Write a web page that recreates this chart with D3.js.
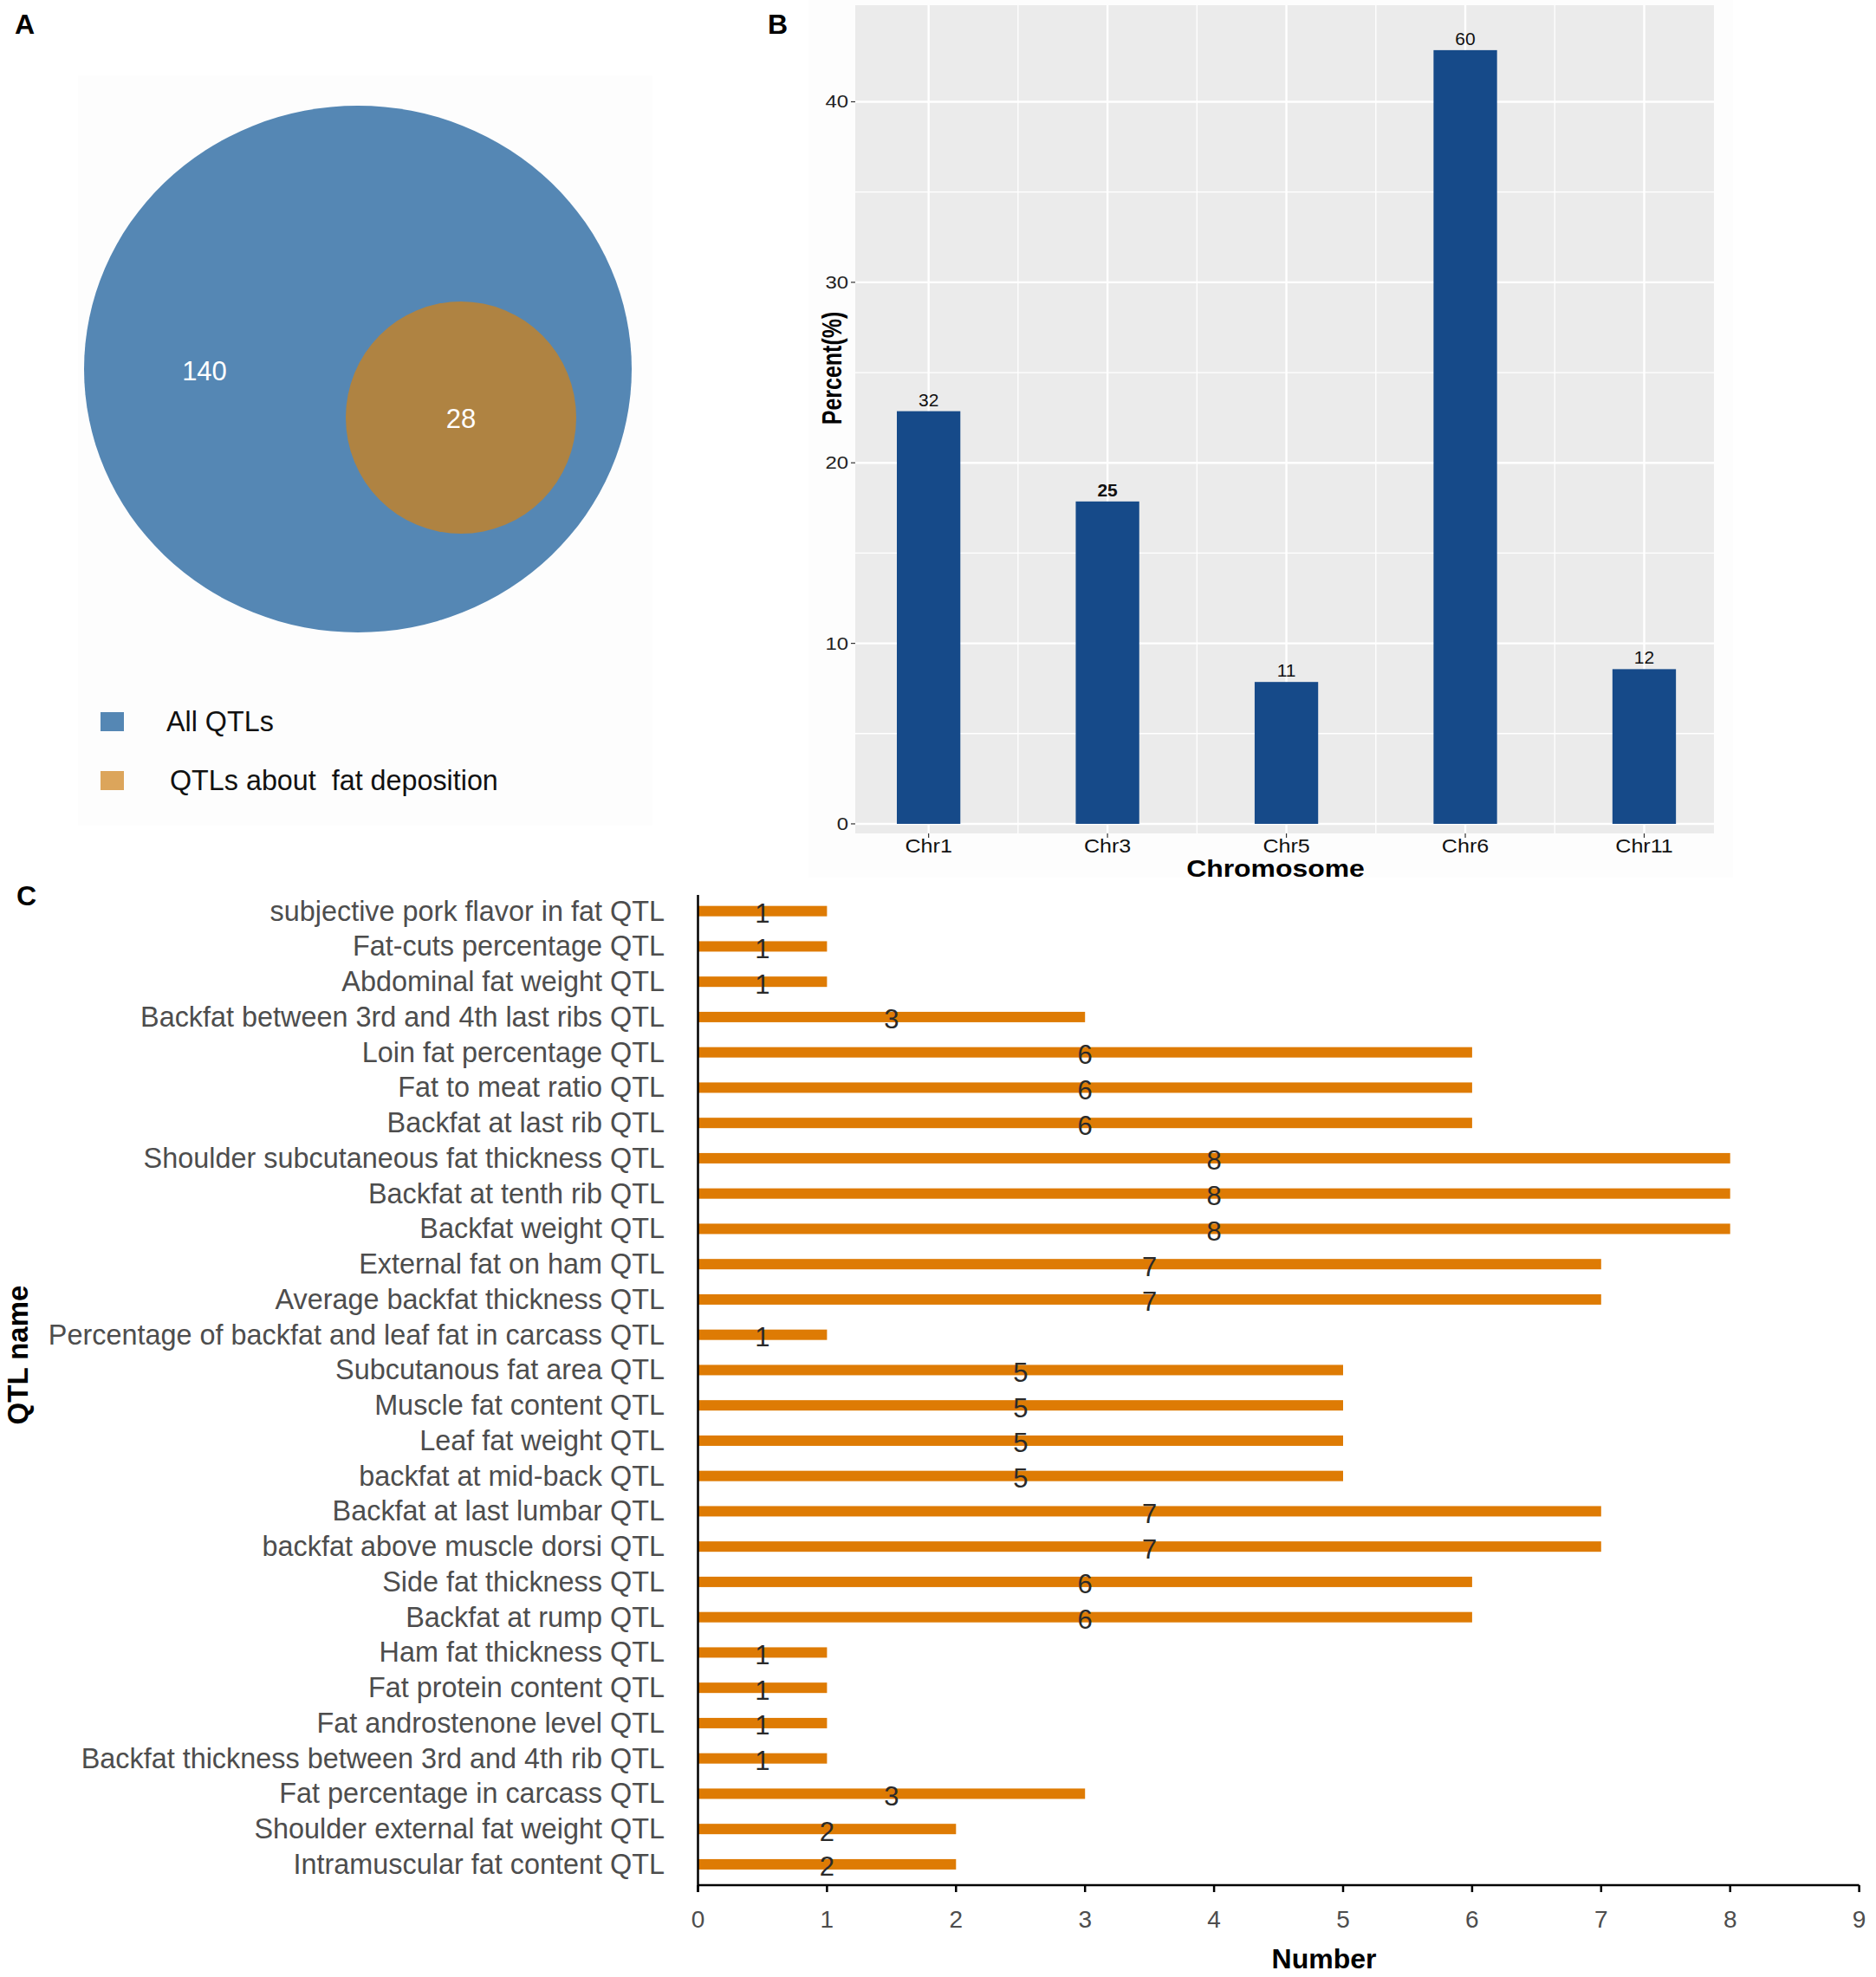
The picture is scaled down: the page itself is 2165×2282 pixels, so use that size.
<!DOCTYPE html>
<html>
<head>
<meta charset="utf-8">
<script src="https://cdn.jsdelivr.net/npm/d3@7"></script>
<style>
  body { margin: 0; background: #fff; }
  text { font-family: "Liberation Sans", Arial, sans-serif; }
</style>
</head>
<body>
<div id="chart"></div>
<script>
// ---- data ----
const vennLabels = ["All QTLs", "QTLs about  fat deposition"];
const vennCounts = [140, 28];

const chromosomes = ["Chr1", "Chr3", "Chr5", "Chr6", "Chr11"];
const chrCounts = [32, 25, 11, 60, 12];
const chrPercent = [22.86, 17.86, 7.86, 42.86, 8.57];
const percentTicks = [0, 10, 20, 30, 40];

const qtlNames = [
  "subjective pork flavor in fat QTL",
  "Fat-cuts percentage QTL",
  "Abdominal fat weight QTL",
  "Backfat between 3rd and 4th last ribs QTL",
  "Loin fat percentage QTL",
  "Fat to meat ratio QTL",
  "Backfat at last rib QTL",
  "Shoulder subcutaneous fat thickness QTL",
  "Backfat at tenth rib QTL",
  "Backfat weight QTL",
  "External fat on ham QTL",
  "Average backfat thickness QTL",
  "Percentage of backfat and leaf fat in carcass QTL",
  "Subcutanous fat area QTL",
  "Muscle fat content QTL",
  "Leaf fat weight QTL",
  "backfat at mid-back QTL",
  "Backfat at last lumbar QTL",
  "backfat above muscle dorsi QTL",
  "Side fat thickness QTL",
  "Backfat at rump QTL",
  "Ham fat thickness QTL",
  "Fat protein content QTL",
  "Fat androstenone level QTL",
  "Backfat thickness between 3rd and 4th rib QTL",
  "Fat percentage in carcass QTL",
  "Shoulder external fat weight QTL",
  "Intramuscular fat content QTL"
];
const qtlCounts = [1, 1, 1, 3, 6, 6, 6, 8, 8, 8, 7, 7, 1, 5, 5, 5, 5, 7, 7, 6, 6, 1, 1, 1, 1, 3, 2, 2];
const numberTicks = [0, 1, 2, 3, 4, 5, 6, 7, 8, 9];

// ---- svg ----
const W = 2165, H = 2282;
const svg = d3.select("#chart").append("svg")
  .attr("width", W)
  .attr("height", H);

// panel letters
const letters = [["A", 17, 39], ["B", 886, 39], ["C", 19, 1045]];
svg.selectAll(".panel-letter")
  .data(letters)
  .enter().append("text")
  .attr("class", "panel-letter")
  .attr("x", d => d[1])
  .attr("y", d => d[2])
  .attr("font-size", 32)
  .attr("font-weight", "bold")
  .text(d => d[0]);

// ===== Panel A: Venn =====
const gA = svg.append("g");
gA.append("rect")
  .attr("x", 90).attr("y", 87).attr("width", 663).attr("height", 866)
  .attr("fill", "#fdfdfd");

const vennColors = ["#5587b4", "#af8342"];
const legendColors = ["#5587b4", "#dca55b"];
const vennShapes = [
  { cx: 413, cy: 426, rx: 316, ry: 304, lx: 236, ly: 428 },
  { cx: 532, cy: 482, rx: 133, ry: 134, lx: 532, ly: 483 }
];

gA.selectAll(".venn")
  .data(vennCounts)
  .enter().append("ellipse")
  .attr("class", "venn")
  .attr("cx", (d, i) => vennShapes[i].cx)
  .attr("cy", (d, i) => vennShapes[i].cy)
  .attr("rx", (d, i) => vennShapes[i].rx)
  .attr("ry", (d, i) => vennShapes[i].ry)
  .attr("fill", (d, i) => vennColors[i]);

gA.selectAll(".venn-label")
  .data(vennCounts)
  .enter().append("text")
  .attr("x", (d, i) => vennShapes[i].lx)
  .attr("y", (d, i) => vennShapes[i].ly)
  .attr("text-anchor", "middle")
  .attr("dominant-baseline", "central")
  .attr("font-size", 31)
  .attr("fill", "#fff")
  .text(d => d);

const legY = [833, 901];
gA.selectAll(".leg-box")
  .data(vennLabels)
  .enter().append("rect")
  .attr("x", 116)
  .attr("y", (d, i) => legY[i] - 11)
  .attr("width", 27)
  .attr("height", 22)
  .attr("fill", (d, i) => legendColors[i]);

gA.selectAll(".leg-text")
  .data(vennLabels)
  .enter().append("text")
  .attr("x", (d, i) => i === 0 ? 192 : 196)
  .attr("y", (d, i) => legY[i] + 11)
  .attr("font-size", 32.3)
  .attr("fill", "#111")
  .style("white-space", "pre")
  .text(d => d);

// ===== Panel B: bar chart =====
const gB = svg.append("g");
gB.append("rect")
  .attr("x", 933).attr("y", 0).attr("width", 1067).attr("height", 1013)
  .attr("fill", "#fdfdfd");

const bLeft = 987, bRight = 1978, bTop = 6, bBottom = 962;
const xB = d3.scaleLinear().domain([0.59, 5.39]).range([bLeft, bRight]);
const yB = d3.scaleLinear().domain([-0.53, 45.35]).range([bBottom, bTop]);
const stretch = 1.14;

gB.append("rect")
  .attr("x", bLeft).attr("y", bTop)
  .attr("width", bRight - bLeft).attr("height", bBottom - bTop)
  .attr("fill", "#ebebeb");

// grid lines
const minorY = [5, 15, 25, 35];
gB.selectAll(".gy-minor")
  .data(minorY)
  .enter().append("line")
  .attr("x1", bLeft).attr("x2", bRight)
  .attr("y1", d => yB(d)).attr("y2", d => yB(d))
  .attr("stroke", "#fff").attr("stroke-width", 1.3);
gB.selectAll(".gy-major")
  .data(percentTicks)
  .enter().append("line")
  .attr("x1", bLeft).attr("x2", bRight)
  .attr("y1", d => yB(d)).attr("y2", d => yB(d))
  .attr("stroke", "#fff").attr("stroke-width", 2.4);
const midX = d3.range(1.5, 5, 1);
gB.selectAll(".gx-minor")
  .data(midX)
  .enter().append("line")
  .attr("y1", bTop).attr("y2", bBottom)
  .attr("x1", d => xB(d)).attr("x2", d => xB(d))
  .attr("stroke", "#fff").attr("stroke-width", 1.3);
gB.selectAll(".gx-major")
  .data(chromosomes)
  .enter().append("line")
  .attr("y1", bTop).attr("y2", bBottom)
  .attr("x1", (d, i) => xB(i + 1)).attr("x2", (d, i) => xB(i + 1))
  .attr("stroke", "#fff").attr("stroke-width", 2.4);

// bars
const barW = xB(1.355) - xB(1);
gB.selectAll(".bar")
  .data(chrPercent)
  .enter().append("rect")
  .attr("class", "bar")
  .attr("x", (d, i) => xB(i + 1) - barW / 2)
  .attr("y", d => yB(d))
  .attr("width", barW)
  .attr("height", d => yB(0) - yB(d))
  .attr("fill", "#164a89");

gB.selectAll(".bar-label")
  .data(chrCounts)
  .enter().append("text")
  .attr("x", (d, i) => xB(i + 1))
  .attr("y", (d, i) => yB(chrPercent[i]) - 6)
  .attr("text-anchor", "middle")
  .attr("font-size", 21)
  .attr("font-weight", (d, i) => chromosomes[i] === "Chr3" ? "bold" : "normal")
  .attr("fill", "#111")
  .text(d => d);

// y axis ticks
gB.selectAll(".ytick")
  .data(percentTicks)
  .enter().append("line")
  .attr("x1", bLeft - 5).attr("x2", bLeft)
  .attr("y1", d => yB(d)).attr("y2", d => yB(d))
  .attr("stroke", "#333").attr("stroke-width", 1.2);
gB.selectAll(".ylab")
  .data(percentTicks)
  .enter().append("text")
  .attr("transform", d => `translate(${bLeft - 8},${yB(d)}) scale(${stretch},1)`)
  .attr("text-anchor", "end")
  .attr("dominant-baseline", "central")
  .attr("font-size", 21)
  .attr("fill", "#222")
  .text(d => d);

// x axis ticks
gB.selectAll(".xtick")
  .data(chromosomes)
  .enter().append("line")
  .attr("x1", (d, i) => xB(i + 1)).attr("x2", (d, i) => xB(i + 1))
  .attr("y1", bBottom).attr("y2", bBottom + 5)
  .attr("stroke", "#333").attr("stroke-width", 1.2);
gB.selectAll(".xlab")
  .data(chromosomes)
  .enter().append("text")
  .attr("transform", (d, i) => `translate(${xB(i + 1)},${984}) scale(${stretch},1)`)
  .attr("text-anchor", "middle")
  .attr("font-size", 22)
  .attr("fill", "#111")
  .text(d => d);

gB.append("text")
  .attr("transform", `translate(1472,1012) scale(${stretch},1)`)
  .attr("text-anchor", "middle")
  .attr("font-size", 28)
  .attr("font-weight", "bold")
  .text("Chromosome");

gB.append("text")
  .attr("transform", `translate(960,425) scale(1.25,1) rotate(-90)`)
  .attr("text-anchor", "middle")
  .attr("dominant-baseline", "central")
  .attr("font-size", 25)
  .attr("font-weight", "bold")
  .text("Percent(%)");

// ===== Panel C: horizontal bars =====
const gC = svg.append("g");
const cLeft = 805.5, cTop = 1031.3, cBottom = 2172.3, axisY = 2176;
const xC = d3.scaleLinear().domain([0, 9]).range([cLeft, cLeft + 9 * 148.9]);
const yC = d3.scaleBand().domain(qtlNames).range([cTop, cBottom]).padding(0);
const barH = 12;

gC.selectAll(".hbar")
  .data(qtlCounts)
  .enter().append("rect")
  .attr("class", "hbar")
  .attr("x", xC(0))
  .attr("y", (d, i) => yC(qtlNames[i]) + yC.bandwidth() / 2 - barH / 2)
  .attr("width", d => xC(d) - xC(0))
  .attr("height", barH)
  .attr("fill", "#de7b04");

gC.selectAll(".hbar-label")
  .data(qtlCounts)
  .enter().append("text")
  .attr("x", d => xC(d / 2))
  .attr("y", (d, i) => yC(qtlNames[i]) + yC.bandwidth() / 2 + 3)
  .attr("text-anchor", "middle")
  .attr("dominant-baseline", "central")
  .attr("font-size", 31)
  .attr("fill", "#2a2a2a")
  .text(d => d);

// category labels
gC.selectAll(".cat")
  .data(qtlNames)
  .enter().append("text")
  .attr("x", 767)
  .attr("y", d => yC(d) + yC.bandwidth() / 2)
  .attr("text-anchor", "end")
  .attr("dominant-baseline", "central")
  .attr("font-size", 32.4)
  .attr("fill", "#4d4d4d")
  .text(d => d);

// axes
gC.append("line")
  .attr("x1", cLeft).attr("x2", cLeft)
  .attr("y1", 1033).attr("y2", axisY + 8)
  .attr("stroke", "#000").attr("stroke-width", 2.5);
gC.append("line")
  .attr("x1", cLeft).attr("x2", xC(9))
  .attr("y1", axisY).attr("y2", axisY)
  .attr("stroke", "#000").attr("stroke-width", 2.5);
gC.selectAll(".ctick")
  .data(numberTicks)
  .enter().append("line")
  .attr("x1", d => xC(d)).attr("x2", d => xC(d))
  .attr("y1", axisY).attr("y2", axisY + 8)
  .attr("stroke", "#000").attr("stroke-width", 2.5);
gC.selectAll(".clab")
  .data(numberTicks)
  .enter().append("text")
  .attr("x", d => xC(d))
  .attr("y", 2225)
  .attr("text-anchor", "middle")
  .attr("font-size", 28)
  .attr("fill", "#4d4d4d")
  .text(d => d);

gC.append("text")
  .attr("x", 1528).attr("y", 2272)
  .attr("text-anchor", "middle")
  .attr("font-size", 32)
  .attr("font-weight", "bold")
  .text("Number");

gC.append("text")
  .attr("transform", "translate(32,1564) rotate(-90)")
  .attr("text-anchor", "middle")
  .attr("font-size", 33)
  .attr("font-weight", "bold")
  .text("QTL name");
</script>
</body>
</html>
